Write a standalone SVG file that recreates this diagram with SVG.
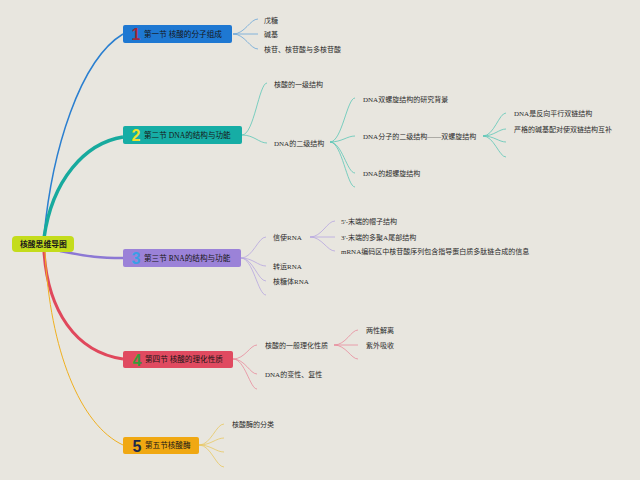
<svg xmlns="http://www.w3.org/2000/svg" width="640" height="480" viewBox="0 0 640 480">
<style>
.t{font-family:"Liberation Serif","Noto Sans CJK SC",serif;font-size:7px;fill:#2b2b2b}
.h{font-family:"Liberation Serif","Noto Sans CJK SC",serif;font-size:7.6px;fill:#161616}
.n{font-family:"Liberation Sans","DejaVu Sans",sans-serif;font-size:16px;font-weight:bold;text-anchor:middle}
.r{font-family:"Noto Sans CJK SC",sans-serif;font-size:7.8px;font-weight:bold;fill:#1a1a1a}
.c{fill:none}
.c1{stroke:#6aa6d8;stroke-width:0.8}
.c2{stroke:#5cc6b6;stroke-width:0.8}
.c3{stroke:#b6a6e0;stroke-width:0.8}
.c4{stroke:#e88a9c;stroke-width:0.8}
.c5{stroke:#e8c862;stroke-width:0.8}
</style>
<rect x="0" y="0" width="640" height="480" fill="#e8e6df"/>
<g id="connectors">
<path class="c" d="M44,236 C52,150 80,60 123,34" stroke="#2a7fd0" stroke-width="1.5"/>
<path class="c" d="M44,238 C52,180 85,143 123,137" stroke="#17aa9e" stroke-width="3.5"/>
<path class="c" d="M60,251 C90,257 100,258 123,258" stroke="#8c78d4" stroke-width="2.5"/>
<path class="c" d="M44,252 C48,310 75,352 123,359" stroke="#e0485c" stroke-width="3"/>
<path class="c" d="M45,252 C50,350 80,425 123,445" stroke="#f0b020" stroke-width="1"/>
<g class="c c1">
<path d="M233,34 C245,34 250,19 258,19"/>
<path d="M233,34 L258,34"/>
<path d="M233,34 C245,34 250,49 258,49"/>
</g>
<g class="c c2">
<path d="M242,135 C254,135 259,83 267,83"/>
<path d="M242,135 C254,135 259,143 267,143"/>
<path d="M330,142 C342,142 347,98 355,98"/>
<path d="M330,142 C342,142 347,136 355,136"/>
<path d="M330,142 C342,142 347,173 355,173"/>
<path d="M330,142 C342,142 347,187 355,187"/>
<path d="M483,136 C494,136 499,113 506,113"/>
<path d="M483,136 C494,136 499,129 506,129"/>
<path d="M483,136 C494,136 499,142 506,142"/>
<path d="M483,136 C494,136 499,157 506,157"/>
</g>
<g class="c c3">
<path d="M241,258 C253,258 258,237 266,237"/>
<path d="M241,258 C253,258 258,266 266,266"/>
<path d="M241,258 C253,258 258,281 266,281"/>
<path d="M241,258 C253,258 258,295 266,295"/>
<path d="M310,237 C322,237 327,221 335,221"/>
<path d="M310,237 L335,237"/>
<path d="M310,237 C322,237 327,251 335,251"/>
</g>
<g class="c c4">
<path d="M233,359 C245,359 250,345 257,345"/>
<path d="M233,359 C245,359 250,374 257,374"/>
<path d="M233,359 C245,359 250,389 257,389"/>
<path d="M334,345 C346,345 351,330 358,330"/>
<path d="M334,345 L358,345"/>
<path d="M334,345 C346,345 351,359 358,359"/>
</g>
<g class="c c5">
<path d="M199,445 C211,445 216,424 224,424"/>
<path d="M199,445 C211,445 216,438 224,438"/>
<path d="M199,445 C211,445 216,452 224,452"/>
<path d="M199,445 C211,445 216,467 224,467"/>
</g>
</g>
<g id="root">
<rect x="12" y="236" width="62" height="16" rx="4" fill="#c4dc1c"/>
<text class="r" x="20" y="246.7">核酸思维导图</text>
</g>
<g id="sec1">
<rect x="123" y="25" width="109" height="18" rx="2" fill="#1e78d2"/>
<text class="n" x="136" y="40" fill="#a0283c">1</text>
<text class="h" x="144" y="36.7">第一节 核酸的分子组成</text>
</g>
<g id="sec2">
<rect x="123" y="126" width="119" height="18" rx="2" fill="#16ada5"/>
<text class="n" x="136" y="141" fill="#eee22a">2</text>
<text class="h" x="144" y="137.7">第二节 DNA的结构与功能</text>
</g>
<g id="sec3">
<rect x="123" y="249" width="118" height="18" rx="2" fill="#9b82d8"/>
<text class="n" x="136" y="264" fill="#3a9ee6">3</text>
<text class="h" x="144" y="260.7">第三节 RNA的结构与功能</text>
</g>
<g id="sec4">
<rect x="123" y="351" width="110" height="17" rx="2" fill="#e04a60"/>
<text class="n" x="137" y="365.5" fill="#3a9a3a">4</text>
<text class="h" x="145" y="362.2">第四节 核酸的理化性质</text>
</g>
<g id="sec5">
<rect x="123" y="437" width="76" height="17" rx="2" fill="#f0a812"/>
<text class="n" x="137" y="451.5" fill="#1c2a4a">5</text>
<text class="h" x="145" y="448.2">第五节核酸酶</text>
</g>
<g id="n1a"><text class="t" x="264" y="22.5">戊糖</text></g>
<g id="n1b"><text class="t" x="264" y="36.5">碱基</text></g>
<g id="n1c"><text class="t" x="264" y="51.5">核苷、核苷酸与多核苷酸</text></g>
<g id="n2a"><text class="t" x="274" y="86.5">核酸的一级结构</text></g>
<g id="n2b"><text class="t" x="274" y="145.5">DNA的二级结构</text></g>
<g id="n2b1"><text class="t" x="363" y="101.5">DNA双螺旋结构的研究背景</text></g>
<g id="n2b2"><text class="t" x="363" y="138.5">DNA分子的二级结构——双螺旋结构</text></g>
<g id="n2b3"><text class="t" x="363" y="175.5">DNA的超螺旋结构</text></g>
<g id="n2b2a"><text class="t" x="514" y="115.5">DNA是反向平行双链结构</text></g>
<g id="n2b2b"><text class="t" x="514" y="131.5">严格的碱基配对使双链结构互补</text></g>
<g id="n3a"><text class="t" x="273" y="239.5">信使RNA</text></g>
<g id="n3b"><text class="t" x="273" y="268.5">转运RNA</text></g>
<g id="n3c"><text class="t" x="273" y="283.5">核糖体RNA</text></g>
<g id="n3a1"><text class="t" x="341" y="223.5">5'-末端的帽子结构</text></g>
<g id="n3a2"><text class="t" x="341" y="239.5">3'-末端的多聚A尾部结构</text></g>
<g id="n3a3"><text class="t" x="341" y="253.5">mRNA编码区中核苷酸序列包含指导蛋白质多肽链合成的信息</text></g>
<g id="n4a"><text class="t" x="265" y="347.5">核酸的一般理化性质</text></g>
<g id="n4b"><text class="t" x="265" y="376.5">DNA的变性、复性</text></g>
<g id="n4a1"><text class="t" x="366" y="332.5">两性解离</text></g>
<g id="n4a2"><text class="t" x="366" y="347.5">紫外吸收</text></g>
<g id="n5a"><text class="t" x="232" y="426.5">核酸酶的分类</text></g>
</svg>
